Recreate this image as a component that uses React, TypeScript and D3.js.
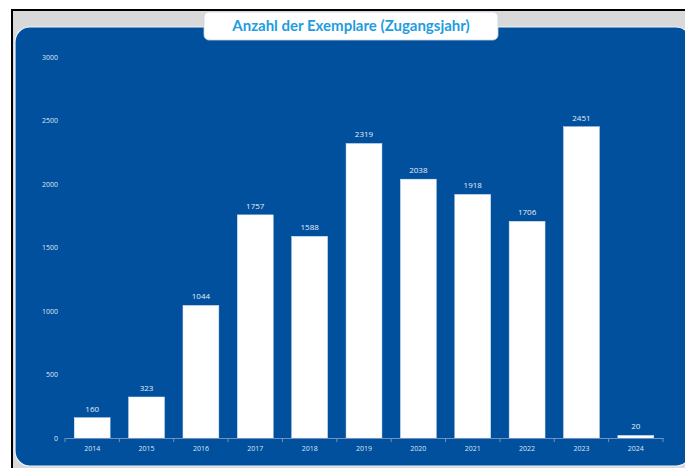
import React, { useEffect, useRef } from 'react';
import * as d3 from 'd3';

const years = ['2014', '2015', '2016', '2017', '2018', '2019', '2020', '2021', '2022', '2023', '2024'];
const counts = [160, 323, 1044, 1757, 1588, 2319, 2038, 1918, 1706, 2451, 20];
const yTicks = [0, 500, 1000, 1500, 2000, 2500, 3000];
const title = 'Anzahl der Exemplare (Zugangsjahr)';

const App: React.FC = () => {
  const svgRef = useRef<SVGSVGElement>(null);

  useEffect(() => {
    if (!svgRef.current) return;
    const svg = d3.select(svgRef.current);
    svg.selectAll('*').remove();

    const width = 685;
    const height = 468;

    // outer frame
    svg.append('rect').attr('width', width).attr('height', height).attr('fill', '#ffffff');
    svg.append('rect')
      .attr('x', 12).attr('y', 10)
      .attr('width', width).attr('height', height)
      .attr('fill', '#d9d9d9')
      .attr('stroke', '#000').attr('stroke-width', 2);

    // blue panel
    svg.append('rect')
      .attr('x', 15).attr('y', 27)
      .attr('width', 676).attr('height', 439)
      .attr('rx', 15)
      .attr('fill', '#00509e')
      .attr('stroke', '#eef3fa').attr('stroke-width', 1.2);

    // title box
    svg.append('rect')
      .attr('x', 204).attr('y', 12)
      .attr('width', 294).attr('height', 28)
      .attr('rx', 5)
      .attr('fill', '#ffffff')
      .attr('stroke', '#c8d4e4').attr('stroke-width', 0.8);
    svg.append('text')
      .attr('x', 351).attr('y', 31)
      .attr('text-anchor', 'middle')
      .attr('font-family', 'Lato, "Open Sans", sans-serif')
      .attr('font-weight', 700)
      .attr('font-size', 15)
      .attr('fill', '#1e9de0')
      .text(title);

    const x = d3.scaleBand<string>()
      .domain(years)
      .range([65, 663])
      .paddingInner(0.34)
      .paddingOuter(0.17);

    const y = d3.scaleLinear().domain([0, 3000]).range([438, 57]);

    const g = svg.append('g');

    // y tick labels
    g.selectAll('text.ytick')
      .data(yTicks)
      .enter()
      .append('text')
      .attr('class', 'ytick')
      .attr('x', 58)
      .attr('y', d => y(d) + 2.5)
      .attr('text-anchor', 'end')
      .attr('font-family', '"Open Sans", sans-serif')
      .attr('font-size', 7)
      .attr('fill', '#dce6f2')
      .text(d => String(d));

    // bars
    g.selectAll('rect.bar')
      .data(counts)
      .enter()
      .append('rect')
      .attr('class', 'bar')
      .attr('x', (_, i) => x(years[i]) as number)
      .attr('y', d => y(d))
      .attr('width', x.bandwidth())
      .attr('height', d => y(0) - y(d))
      .attr('fill', '#ffffff')
      .attr('stroke', '#d8e2ef')
      .attr('stroke-width', 0.5);

    // value labels
    g.selectAll('text.val')
      .data(counts)
      .enter()
      .append('text')
      .attr('class', 'val')
      .attr('x', (_, i) => (x(years[i]) as number) + x.bandwidth() / 2)
      .attr('y', d => y(d) - 6)
      .attr('text-anchor', 'middle')
      .attr('font-family', '"Open Sans", sans-serif')
      .attr('font-size', 8)
      .attr('fill', '#e6edf6')
      .text(d => String(d));

    // x axis
    const axis = g.append('g')
      .attr('transform', `translate(0,${y(0)})`)
      .call(d3.axisBottom(x).tickSize(0).tickPadding(8));
    axis.select('.domain').attr('stroke', '#7391c0').attr('stroke-width', 1);
    axis.selectAll('text')
      .attr('font-family', '"Open Sans", sans-serif')
      .attr('font-size', 7)
      .attr('fill', '#dce6f2');

    // category boundary ticks
    const step = x.step();
    const bounds = d3.range(years.length + 1).map(i => 65 + i * ((663 - 65) / years.length));
    g.selectAll('line.btick')
      .data(bounds)
      .enter()
      .append('line')
      .attr('class', 'btick')
      .attr('x1', d => d).attr('x2', d => d)
      .attr('y1', y(0)).attr('y2', y(0) + 4)
      .attr('stroke', '#7391c0')
      .attr('stroke-width', 1);
    void step;
  }, []);

  return (
    <svg
      ref={svgRef}
      width={685}
      height={468}
      style={{ position: 'absolute', left: 0, top: 0, display: 'block' }}
    />
  );
};

export default App;
